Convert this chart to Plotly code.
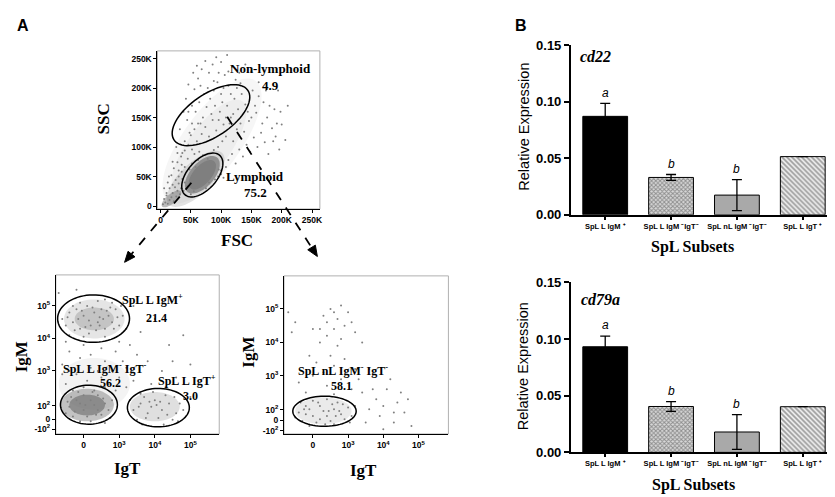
import numpy as np
import plotly.graph_objects as go

W, H = 835, 497

# ---------------- data ----------------
# B: relative expression (qPCR), mean and SEM per SpL subset
subsets = ["SpL L IgM ⁺", "SpL L IgM ⁻IgT⁻", "SpL nL IgM ⁻IgT⁻", "SpL L IgT ⁺"]
cd22_mean = [0.087, 0.033, 0.0174, 0.0514]
cd22_err = [0.0114, 0.0026, 0.0137, 0]
cd79a_mean = [0.0932, 0.0405, 0.018, 0.0403]
cd79a_err = [0.0094, 0.0043, 0.0154, 0]
letters = ["a", "b", "b", ""]

# A: gate percentages
scatter_gates = ["Non-lymphoid", "Lymphoid"]
scatter_pct = [4.9, 75.2]
lymph_gates = ["SpL L IgM<sup>+</sup>", "SpL L IgM<sup>-</sup> IgT<sup>-</sup>", "SpL L IgT<sup>+</sup>"]
lymph_pct = [21.4, 56.2, 3.0]
nonlymph_gates = ["SpL nL IgM<sup>-</sup> IgT<sup>-</sup>"]
nonlymph_pct = [58.1]

# FSC / SSC dots (K units)
fsc = [4, 8, 6, 12, 15, 10, 18, 22, 20, 26, 28, 32, 24, 34, 30, 38, 40, 36, 44,
       48, 52, 58, 62, 45, 40, 35, 30, 25, 20, 15, 12, 18, 22, 28, 34, 40, 46, 52, 56, 64, 70, 78, 84, 90, 96, 100, 104,
       108, 112, 118, 124, 130, 136, 142, 148, 154, 160, 166, 172, 178, 184, 190, 196,
       60, 68, 74, 80, 86, 92, 98, 104, 110, 116, 122, 128, 134, 140, 146, 152, 158, 70, 76, 82, 88, 94, 100, 106,
       112, 118, 124, 130, 64, 58, 52, 48, 56, 62, 68, 74, 80, 86, 92, 100, 110, 66, 54, 46, 42, 38, 44,
       140, 150, 162, 170, 176, 188, 200, 206, 210, 194,
       30, 35, 50, 55, 60, 75, 80, 90, 95, 100, 88, 95, 102, 108, 40, 50, 56, 62, 36, 28, 20, 14, 10, 6, 26, 32,
       120, 126, 132, 138, 144, 150, 156, 162, 168, 174, 180, 186, 192, 198, 116, 104, 96, 88, 78, 72, 66, 84,
       90, 96, 102, 108, 114, 120, 126, 132, 60, 52, 46, 112]
ssc = [3, 6, 12, 4, 10, 18, 15, 8, 22, 16, 26, 20, 32, 30, 38, 26, 40, 46, 34,
       62, 72, 66, 78, 80, 66, 58, 50, 44, 36, 30, 40, 52, 64, 74, 84, 94, 104, 96, 88, 92, 86, 80, 76, 70, 62, 54, 48,
       66, 78, 88, 72, 96, 84, 104, 92, 116, 100, 124, 108, 88, 132, 118, 96,
       110, 122, 134, 118, 146, 128, 160, 138, 170, 150, 182, 164, 190, 172, 144, 196, 158, 150, 168, 182, 196, 210, 190, 222,
       204, 236, 214, 226, 176, 160, 140, 124, 198, 216, 232, 246, 226, 240, 252, 244, 256, 204, 226, 206, 182, 160, 146,
       240, 228, 210, 176, 150, 164, 138, 112, 170, 196,
       60, 70, 20, 25, 30, 30, 40, 45, 50, 60, 95, 100, 110, 118, 110, 120, 130, 140, 90, 90, 75, 50, 22, 30, 100, 130,
       110, 130, 140, 126, 160, 150, 170, 186, 140, 196, 170, 110, 140, 160, 190, 200, 226, 212, 200, 190, 140, 156,
       170, 146, 176, 150, 140, 156, 200, 208, 238, 170, 160, 228]

# lymphoid gate: IgT / IgM dots (display units, decades)
lym_igt = [1.5, 1.6, 1.7, 1.8, 1.9, 2.0, 2.1, 2.2, 2.3, 2.4, 2.5, 2.6, 2.7, 2.8, 2.9, 3.0, 3.1, 1.6, 1.9, 2.4,
           2.8, 2.0, 2.6, 3.2, 1.4, 2.15, 2.45, 2.75, 1.85, 2.35,
           1.6, 2.0, 2.5, 3.0, 3.5, 1.4, 1.9, 2.6, 3.2, 3.8, 4.2, 4.6, 3.6, 4.0, 4.4, 1.3, 1.8, 3.4, 5.0, 4.8,
           1.5, 1.8, 2.1, 2.4, 2.7, 3.0, 1.7, 2.0, 2.3, 2.6, 2.9, 3.2, 1.6, 2.2, 2.8, 3.4, 3.6, 3.3,
           1.6, 1.8, 2.0, 2.2, 2.4, 2.6, 1.7, 1.9, 2.1, 2.3, 2.5, 2.7, 1.5, 2.8, 2.0, 2.4, 1.65, 2.2, 2.6, 1.9,
           3.4, 3.6, 3.8, 4.0, 4.2, 4.4, 4.6, 3.5, 3.7, 3.9, 4.1, 4.3, 4.5, 4.7, 3.95, 4.25, 3.65, 4.8, 5.0, 4.05,
           1.55, 1.75, 1.95, 2.05, 2.25, 2.55, 2.65, 2.85, 2.95, 3.05, 2.15, 2.45, 1.7, 2.6,
           1.4, 2.5, 3.1, 3.9, 4.3, 2.2, 2.9, 1.5, 3.3, 4.5,
           1.75, 2.05, 2.35, 2.55, 1.55, 2.25, 2.75, 1.85,
           3.55, 3.85, 4.15, 4.35, 4.55, 3.75, 4.65]
lym_igm = [4.4, 4.8, 4.5, 4.9, 4.3, 4.7, 5.0, 4.4, 4.8, 4.5, 4.9, 4.3, 4.7, 4.5, 4.9, 4.4, 4.7, 4.1, 5.1, 5.15,
           5.1, 4.05, 4.05, 4.3, 4.6, 4.55, 4.65, 4.95, 4.6, 4.25,
           3.6, 3.8, 3.7, 3.9, 3.5, 3.2, 3.4, 3.3, 3.1, 3.3, 3.0, 2.8, 4.2, 4.6, 3.8, 5.4, 5.5, 5.0, 3.2, 4.1,
           2.6, 2.9, 2.7, 3.0, 2.6, 2.8, 2.4, 2.5, 2.4, 2.5, 2.4, 2.5, 3.0, 3.1, 3.0, 2.7, 2.3, 2.1,
           1.9, 2.1, 1.8, 2.1, 1.8, 2.0, 1.6, 2.0, 1.6, 1.95, 1.65, 1.8, 1.7, 2.1, 2.25, 2.25, 2.2, 1.45, 1.4, 1.45,
           1.8, 2.0, 1.7, 2.1, 1.8, 2.0, 1.7, 1.5, 2.2, 1.9, 1.55, 2.25, 1.5, 2.0, 2.35, 1.35, 1.35, 1.8, 2.2, 1.95,
           4.65, 4.25, 4.85, 4.35, 4.95, 4.6, 4.85, 4.3, 4.65, 5.0, 4.15, 4.4, 5.0, 5.2,
           2.9, 2.8, 3.3, 2.6, 2.5, 3.5, 3.6, 3.9, 3.8, 3.3,
           1.75, 1.95, 1.65, 2.15, 2.05, 2.35, 1.55, 2.35,
           1.9, 2.05, 2.05, 1.65, 2.2, 1.55, 1.45]

# non-lymphoid gate: IgT / IgM dots
nl_igt = [2.3, 2.5, 2.7, 2.8, 2.6, 2.4, 2.9, 3.0, 2.2, 2.7, 3.2, 2.5, 1.3, 1.5, 2.0, 3.4, 2.9, 2.1, 3.6,
          1.6, 2.0, 2.4, 2.8, 3.1, 1.8, 2.6, 3.4, 3.8, 4.1, 4.4, 4.6, 4.3, 3.9, 3.6, 4.0, 4.8, 3.3, 4.2, 4.5,
          1.6, 1.8, 2.0, 2.2, 2.4, 2.6, 2.8, 3.0, 1.7, 1.9, 2.1, 2.3, 2.5, 2.7, 2.9, 3.1, 1.5, 2.0, 2.4, 2.6,
          2.2, 1.8, 2.75, 3.2,
          1.65, 1.9, 2.15, 2.35, 2.55, 2.85, 3.05, 1.75, 2.45, 2.65,
          3.5, 3.7, 4.0, 4.3, 4.7, 3.2, 2.3, 2.6, 2.8, 2.4, 2.6, 2.2, 1.4, 3.1, 1.9]
nl_igm = [4.8, 5.0, 4.7, 5.1, 4.4, 4.2, 4.5, 4.9, 4.0, 3.9, 4.3, 3.6, 4.9, 4.6, 4.4, 4.0, 3.5, 3.4, 3.2,
          2.8, 3.0, 2.7, 2.9, 2.6, 2.5, 2.45, 2.5, 2.3, 2.6, 2.2, 1.9, 1.6, 1.8, 2.0, 1.4, 1.5, 2.9, 2.9, 2.5,
          1.9, 2.1, 1.8, 2.1, 1.8, 2.0, 1.85, 2.05, 1.65, 2.0, 1.6, 1.95, 1.65, 2.2, 1.7, 1.8, 1.75, 2.25, 2.3, 1.55,
          1.7, 1.85, 1.95, 2.1,
          2.2, 1.5, 2.2, 1.55, 2.15, 2.15, 1.6, 2.0, 1.95, 1.8,
          1.6, 2.6, 2.1, 1.9, 2.3, 3.2, 3.1, 3.3, 4.1, 4.6, 4.9, 4.4, 4.3, 4.6, 3.6]


def px(x):
    return x / W


def py(y):
    return 1 - y / H


def ellipse_path(cx, cy, a, b, ang=0, n=72):
    t = np.linspace(0, 2 * np.pi, n)
    th = np.radians(ang)
    xs = cx + a * np.cos(t) * np.cos(th) - b * np.sin(t) * np.sin(th)
    ys = cy + a * np.cos(t) * np.sin(th) + b * np.sin(t) * np.cos(th)
    return "M " + " L ".join(f"{x:.3f},{y:.3f}" for x, y in zip(xs, ys)) + " Z"


serif = "Liberation Serif"
sans = "Liberation Sans"

fig = go.Figure()

dot = dict(size=2, color="#808080")
fig.add_trace(go.Scatter(x=fsc, y=ssc, mode="markers", marker=dot, xaxis="x", yaxis="y", hoverinfo="skip"))
fig.add_trace(go.Scatter(x=lym_igt, y=lym_igm, mode="markers", marker=dot, xaxis="x2", yaxis="y2", hoverinfo="skip"))
fig.add_trace(go.Scatter(x=nl_igt, y=nl_igm, mode="markers", marker=dot, xaxis="x3", yaxis="y3", hoverinfo="skip"))

bar_colors = ["black", "#d8d8d8", "#a9a9a9", "#f2f2f2"]
bar_patterns = ["", "x", "", "\\"]
for means, errs, ax in [(cd22_mean, cd22_err, "4"), (cd79a_mean, cd79a_err, "5")]:
    fig.add_trace(go.Bar(
        x=[0, 1, 2, 3], y=means, width=0.68, xaxis="x" + ax, yaxis="y" + ax,
        marker=dict(color=bar_colors, line=dict(color="black", width=1),
                    pattern=dict(shape=bar_patterns, fgcolor="#202020", size=[3, 3, 3, 3.5],
                                 solidity=[0.5, 0.55, 0.5, 0.5])),
        error_y=dict(type="data", array=errs, color="black", thickness=1.3, width=5),
        hoverinfo="skip"))

# ---------------- axes ----------------
flow_font = dict(family=sans, size=8.5, color="black", weight="bold")
flow_ax = dict(showgrid=False, zeroline=False, showline=True, linecolor="black", linewidth=1,
               ticks="outside", ticklen=3, tickcolor="black", tickfont=flow_font, fixedrange=True)

k_vals = [0, 50, 100, 150, 200, 250]
k_text = ["0", "50K", "100K", "150K", "200K", "250K"]
log_x_vals = [2, 3, 4, 5]
log_x_text = ["0", "10<sup>3</sup>", "10<sup>4</sup>", "10<sup>5</sup>"]
log_y_text = ["-10<sup>2</sup>", "0", "10<sup>2</sup>", "10<sup>3</sup>", "10<sup>4</sup>", "10<sup>5</sup>"]

bar_y = dict(range=[0, 0.15], tickvals=[0, 0.05, 0.10, 0.15], tickformat=".2f", showline=True,
             linewidth=2, linecolor="black", ticks="outside", ticklen=5, tickwidth=2, tickcolor="black",
             showgrid=False, zeroline=False, tickfont=dict(family=sans, size=13, color="black", weight="bold"))
bar_x = dict(range=[-0.52, 3.52], tickvals=[0, 1, 2, 3], ticktext=subsets, showline=True, linewidth=2,
             linecolor="black", ticks="outside", ticklen=3, tickwidth=1.5, tickcolor="black",
             showgrid=False, zeroline=False, tickfont=dict(family=sans, size=7.5, color="black", weight="bold"))

fig.update_layout(
    width=W, height=H, margin=dict(l=0, r=0, t=0, b=0),
    paper_bgcolor="white", plot_bgcolor="white", showlegend=False,
    xaxis=dict(flow_ax, domain=[px(150), px(313)], range=[-5, 263], tickvals=k_vals, ticktext=k_text, anchor="y"),
    yaxis=dict(flow_ax, domain=[py(200), py(37)], range=[-5, 263], tickvals=k_vals, ticktext=k_text, anchor="x"),
    xaxis2=dict(flow_ax, domain=[px(48), px(212)], range=[1.22, 5.81], tickvals=log_x_vals,
                ticktext=log_x_text, anchor="y2"),
    yaxis2=dict(flow_ax, domain=[py(432), py(268)], range=[1.06, 5.955], tickvals=[1.21, 1.51, 1.93, 3, 4, 5],
                ticktext=log_y_text, anchor="x2"),
    xaxis3=dict(flow_ax, domain=[px(277), px(442)], range=[1.18, 5.85], tickvals=log_x_vals,
                ticktext=log_x_text, anchor="y3"),
    yaxis3=dict(flow_ax, domain=[py(432), py(269)], range=[1.26, 5.99], tickvals=[1.35, 1.67, 1.99, 3, 4, 5],
                ticktext=log_y_text, anchor="x3"),
    xaxis4=dict(bar_x, domain=[px(565), px(832)], anchor="y4"),
    yaxis4=dict(bar_y, domain=[py(206), py(31)], anchor="x4"),
    xaxis5=dict(bar_x, domain=[px(565), px(832)], anchor="y5"),
    yaxis5=dict(bar_y, domain=[py(451), py(275.7)], anchor="x5"),
)

# ---------------- shapes ----------------
shapes = []
# density tone under the dots
dens = [
    ("", 85, 110, 125, 48, 55, "rgba(170,170,170,0.10)"),
    ("", 80, 100, 95, 35, 55, "rgba(170,170,170,0.12)"),
    ("", 58, 46, 62, 26, 45, "rgba(140,140,140,0.25)"),
    ("", 18, 12, 20, 8, 40, "rgba(120,120,120,0.5)"),
    ("", 69, 53, 38, 20, 50, "rgba(115,115,115,0.7)"),
    ("", 69, 53, 30, 15, 50, "rgba(110,110,110,0.5)"),
    ("2", 2.3, 4.6, 0.85, 0.6, 0, "rgba(150,150,150,0.25)"),
    ("2", 2.3, 4.6, 0.55, 0.35, 0, "rgba(120,120,120,0.3)"),
    ("2", 2.3, 2.6, 1.0, 0.8, 0, "rgba(160,160,160,0.12)"),
    ("2", 2.1, 1.95, 0.75, 0.5, 0, "rgba(120,120,120,0.45)"),
    ("2", 2.1, 1.95, 0.5, 0.32, 0, "rgba(100,100,100,0.55)"),
    ("2", 4.0, 1.9, 0.7, 0.45, 0, "rgba(150,150,150,0.3)"),
    ("3", 2.3, 1.95, 0.8, 0.4, 0, "rgba(170,170,170,0.25)"),
]
for ax, cx, cy, a, b, ang, col in dens:
    shapes.append(dict(type="path", path=ellipse_path(cx, cy, a, b, ang), xref="x" + ax, yref="y" + ax,
                       fillcolor=col, line=dict(width=0), layer="below"))

# gates
gates = [
    ("", 83.3, 154, 74, 36, 35),
    ("", 69, 52.6, 44, 24.5, 50),
    ("2", 2.28, 4.61, 1.01, 0.73, 0),
    ("2", 2.15, 1.96, 0.8, 0.6, 0),
    ("2", 4.1, 1.87, 0.87, 0.59, 0),
    ("3", 2.33, 1.94, 0.9, 0.45, 0),
]
for ax, cx, cy, a, b, ang in gates:
    shapes.append(dict(type="path", path=ellipse_path(cx, cy, a, b, ang), xref="x" + ax, yref="y" + ax,
                       line=dict(color="black", width=1.5), layer="above"))

# light frame round the flow plots
for ax in ["", "2", "3"]:
    shapes.append(dict(type="rect", xref=f"x{ax} domain", yref=f"y{ax} domain", x0=0, x1=1, y0=0, y1=1,
                       line=dict(color="#b0b0b0", width=1), layer="below"))

# dashed arrows from the gates to the child plots
for (x0, y0), (x1, y1) in [((184, 173), (117, 255)), ((220, 105), (310.5, 249))]:
    d = np.array([x1 - x0, y1 - y0], dtype=float)
    d /= np.hypot(*d)
    nrm = np.array([-d[1], d[0]])
    base = np.array([x1, y1]) - 11 * d
    shapes.append(dict(type="line", xref="paper", yref="paper", x0=px(x0), y0=py(y0),
                       x1=px(base[0]), y1=py(base[1]), line=dict(color="black", width=1.8, dash="dash")))
    p1 = base + 4.5 * nrm
    p2 = base - 4.5 * nrm
    path = f"M {px(x1)},{py(y1)} L {px(p1[0])},{py(p1[1])} L {px(p2[0])},{py(p2[1])} Z"
    shapes.append(dict(type="path", xref="paper", yref="paper", path=path, fillcolor="black",
                       line=dict(color="black", width=1)))

fig.update_layout(shapes=shapes)

# ---------------- text ----------------
ann = []


def txt(x, y, s, size, family=serif, bold=True, italic=False, angle=0):
    ann.append(dict(x=px(x), y=py(y), xref="paper", yref="paper", text=s, showarrow=False,
                    textangle=angle, xanchor="center", yanchor="middle",
                    font=dict(family=family, size=size, color="black",
                              weight="bold" if bold else "normal", style="italic" if italic else "normal")))


txt(15, 11, "A", 16, family=sans)
txt(515, 11, "B", 16, family=sans)

# flow labels
txt(96, 107, "SSC", 17, angle=-90)
txt(230, 233, "FSC", 17)
txt(263, 55, scatter_gates[0], 13)
txt(263, 73, f"{scatter_pct[0]:.1f}", 13)
txt(248, 167, scatter_gates[1], 13)
txt(248, 183, f"{scatter_pct[1]:.1f}", 13)

txt(13, 352, "IgM", 17, angle=-90)
txt(120, 468, "IgT", 17)
txt(145, 293, lymph_gates[0], 12)
txt(149, 312, f"{lymph_pct[0]:.1f}", 12)
txt(97, 365, lymph_gates[1], 12)
txt(103, 379, f"{lymph_pct[1]:.1f}", 12)
txt(180, 377, lymph_gates[2], 12)
txt(183, 393, f"{lymph_pct[2]:.1f}", 12)

txt(241, 348, "IgM", 17, angle=-90)
txt(357, 470, "IgT", 17)
txt(336, 367, nonlymph_gates[0], 12)
txt(335, 383, f"{nonlymph_pct[0]:.1f}", 12)

# bar chart labels
txt(517, 115, "Relative Expression", 14.5, family=sans, bold=False, angle=-90)
txt(517, 362, "Relative Expression", 14.5, family=sans, bold=False, angle=-90)
txt(590, 43, "cd22", 16, italic=True)
txt(595, 293, "cd79a", 16, italic=True)
txt(687, 239, "SpL Subsets", 16)
txt(688, 485, "SpL Subsets", 16)

for means, errs, ax in [(cd22_mean, cd22_err, "4"), (cd79a_mean, cd79a_err, "5")]:
    for i, (m, e, l) in enumerate(zip(means, errs, letters)):
        if l:
            ann.append(dict(x=i, y=m + e + 0.0015, xref="x" + ax, yref="y" + ax, text=l, showarrow=False,
                            yanchor="bottom", font=dict(family=sans, size=12, color="black", style="italic")))

fig.update_layout(annotations=ann)

fig.write_html("out.html")
